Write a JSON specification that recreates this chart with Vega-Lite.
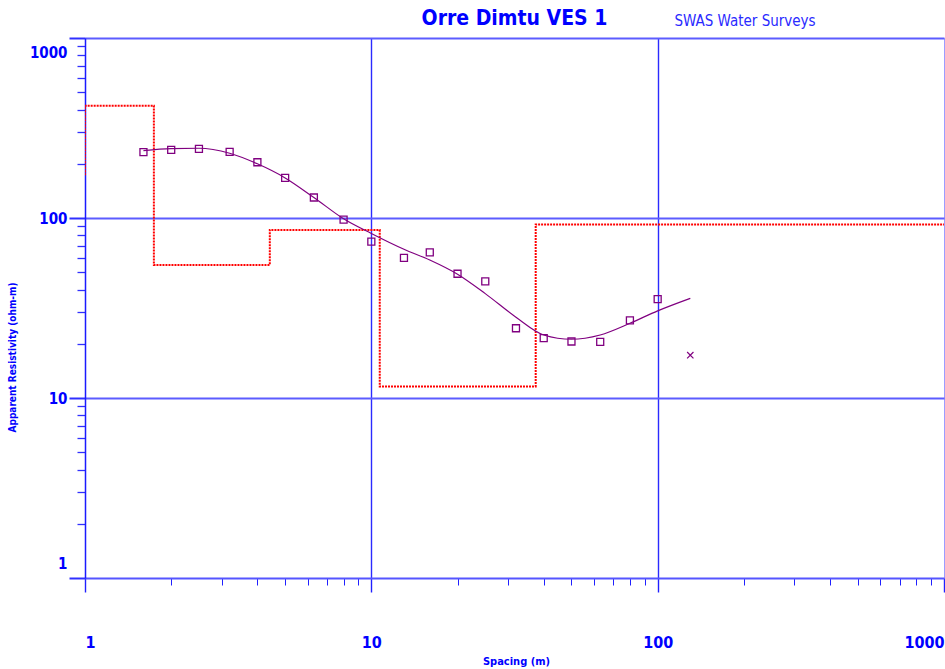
{
  "$schema": "https://vega.github.io/schema/vega-lite/v6.json",
  "width": 859,
  "height": 540,
  "autosize": {"type": "none"},
  "padding": {"left": 85, "top": 38, "right": 1, "bottom": 91},
  "background": "white",
  "title": {
    "text": "Orre Dimtu VES 1",
    "font": "DejaVu Sans Condensed, sans-serif",
    "fontSize": 21,
    "fontWeight": "bold",
    "color": "#0000ff",
    "anchor": "middle",
    "offset": -16
  },
  "config": {
    "view": {"stroke": "#9c9cff", "strokeWidth": 1},
    "font": "DejaVu Sans Condensed, sans-serif"
  },
  "datasets": {
    "observed": [
      {"spacing": 1.6, "rho": 232},
      {"spacing": 2, "rho": 239},
      {"spacing": 2.5, "rho": 242},
      {"spacing": 3.2, "rho": 233},
      {"spacing": 4, "rho": 204},
      {"spacing": 5, "rho": 167},
      {"spacing": 6.3, "rho": 130},
      {"spacing": 8, "rho": 98},
      {"spacing": 10, "rho": 74},
      {"spacing": 13, "rho": 60},
      {"spacing": 16, "rho": 64.5},
      {"spacing": 20, "rho": 49},
      {"spacing": 25, "rho": 44.5},
      {"spacing": 32, "rho": 24.4},
      {"spacing": 40, "rho": 21.5},
      {"spacing": 50, "rho": 20.6},
      {"spacing": 63, "rho": 20.5},
      {"spacing": 80, "rho": 27},
      {"spacing": 100, "rho": 35.4}
    ],
    "excluded": [
      {"spacing": 130, "rho": 17.3}
    ],
    "curve": [
      {"spacing": 1.6, "rho": 237},
      {"spacing": 2, "rho": 243},
      {"spacing": 2.5, "rho": 244},
      {"spacing": 3.2, "rho": 229},
      {"spacing": 4, "rho": 200},
      {"spacing": 5, "rho": 167},
      {"spacing": 6.3, "rho": 130},
      {"spacing": 8, "rho": 99},
      {"spacing": 10, "rho": 82},
      {"spacing": 13, "rho": 67},
      {"spacing": 16, "rho": 58.4},
      {"spacing": 20, "rho": 48.7},
      {"spacing": 25, "rho": 38},
      {"spacing": 32, "rho": 28.1},
      {"spacing": 40, "rho": 22.4},
      {"spacing": 50, "rho": 21.2},
      {"spacing": 63, "rho": 22.4},
      {"spacing": 80, "rho": 26},
      {"spacing": 100, "rho": 30.5},
      {"spacing": 130, "rho": 35.8}
    ],
    "layers": [
      {"spacing": 1, "rho": 173, "o": 0},
      {"spacing": 1, "rho": 420, "o": 1},
      {"spacing": 1.74, "rho": 54.8, "o": 2},
      {"spacing": 4.42, "rho": 85.8, "o": 3},
      {"spacing": 10.7, "rho": 11.6, "o": 4},
      {"spacing": 37.5, "rho": 92, "o": 5},
      {"spacing": 1000, "rho": 92, "o": 6}
    ]
  },
  "layer": [
    {
      "data": {"name": "layers"},
      "mark": {"type": "line", "interpolate": "step-after", "color": "#ff0000", "strokeWidth": 2, "strokeDash": [2, 1], "clip": true},
      "encoding": {
        "x": {
          "field": "spacing", "type": "quantitative",
          "scale": {"type": "log", "domain": [1, 1000], "nice": false},
          "axis": {
            "orient": "bottom",
            "values": [1,2,3,4,5,6,7,8,9,10,20,30,40,50,60,70,80,90,100,200,300,400,500,600,700,800,900,1000],
            "title": "Spacing (m)",
            "titleFontSize": 11,
            "titleFontWeight": "bold",
            "titleColor": "#0000ff",
            "titleX": 431,
            "titleY": 86,
            "titleBaseline": "alphabetic",
            "titleAlign": "center",
            "grid": true,
            "gridColor": "#2b2bff",
            "gridWidth": 1.4,
            "gridOpacity": {"condition": {"test": "datum.value == 10 || datum.value == 100", "value": 1}, "value": 0},
            "tickColor": "#2020ff",
            "tickSize": {"condition": {"test": "datum.value == 1 || datum.value == 10 || datum.value == 100 || datum.value == 1000", "value": 14}, "value": 7},
            "tickWidth": {"condition": {"test": "datum.value == 1 || datum.value == 10 || datum.value == 100 || datum.value == 1000", "value": 1.4}, "value": 1},
            "domain": true,
            "domainColor": "#5555ff",
            "domainWidth": 2,
            "labelExpr": "(datum.value == 1 || datum.value == 10 || datum.value == 100 || datum.value == 1000) ? format(datum.value, 'd') : ''",
            "labelFontSize": 16,
            "labelFontWeight": "bold",
            "labelColor": "#0000ff",
            "labelBaseline": "top",
            "labelPadding": 42,
            "labelFlush": true,
            "labelOverlap": false
          }
        },
        "y": {
          "field": "rho", "type": "quantitative",
          "scale": {"type": "log", "domain": [1, 1000], "nice": false},
          "axis": {
            "orient": "left",
            "values": [1,2,3,4,5,6,7,8,9,10,20,30,40,50,60,70,80,90,100,200,300,400,500,600,700,800,900,1000],
            "title": "Apparent Resistivity (ohm-m)",
            "titleFontSize": 10,
            "titleFontWeight": "bold",
            "titleColor": "#0000ff",
            "titleX": -70,
            "titleY": 319,
            "titleAngle": 270,
            "titleAlign": "center",
            "titleBaseline": "alphabetic",
            "grid": true,
            "gridColor": "#5c5cff",
            "gridWidth": 2,
            "gridOpacity": {"condition": {"test": "datum.value == 10 || datum.value == 100 || datum.value == 1000", "value": 1}, "value": 0},
            "tickColor": "#3030ff",
            "tickSize": {"condition": {"test": "datum.value == 1 || datum.value == 10 || datum.value == 100 || datum.value == 1000", "value": 16}, "value": 8},
            "tickWidth": {"condition": {"test": "datum.value == 1 || datum.value == 10 || datum.value == 100 || datum.value == 1000", "value": 2}, "value": 1.3},
            "domain": true,
            "domainColor": "#1a1aff",
            "domainWidth": 1.5,
            "labelExpr": "(datum.value == 1 || datum.value == 10 || datum.value == 100 || datum.value == 1000) ? format(datum.value, 'd') : ''",
            "labelFontSize": 15,
            "labelFontWeight": "bold",
            "labelColor": "#0000ff",
            "labelPadding": 2,
            "labelBaseline": "middle",
            "labelFlush": false,
            "labelOffset": {"condition": [{"test": "datum.value == 1000", "value": 14}, {"test": "datum.value == 1", "value": -15}], "value": 0},
            "labelOverlap": false
          }
        },
        "order": {"field": "o", "type": "quantitative"}
      }
    },
    {
      "data": {"name": "curve"},
      "mark": {"type": "line", "interpolate": "monotone", "color": "#800080", "strokeWidth": 1.2},
      "encoding": {
        "x": {
          "field": "spacing", "type": "quantitative",
          "axis": {
            "orient": "top",
            "ticks": false,
            "labels": false,
            "domain": false,
            "grid": false,
            "title": "SWAS Water Surveys",
            "titleX": 659.5,
            "titleY": -13,
            "titleAlign": "center",
            "titleBaseline": "alphabetic",
            "titleFontSize": 15,
            "titleFontWeight": "normal",
            "titleColor": "#2a2aff"
          }
        },
        "y": {"field": "rho", "type": "quantitative"}
      }
    },
    {
      "data": {"name": "observed"},
      "mark": {"type": "point", "shape": "square", "filled": false, "size": 49, "strokeWidth": 1.3, "color": "#800080", "opacity": 1},
      "encoding": {
        "x": {"field": "spacing", "type": "quantitative", "axis": null},
        "y": {"field": "rho", "type": "quantitative"}
      }
    },
    {
      "data": {"name": "excluded"},
      "mark": {"type": "point", "shape": "M-1,-1L1,1M-1,1L1,-1", "filled": false, "size": 40, "strokeWidth": 1.2, "color": "#800080", "opacity": 1},
      "encoding": {
        "x": {"field": "spacing", "type": "quantitative", "axis": null},
        "y": {"field": "rho", "type": "quantitative"}
      }
    }
  ],
  "resolve": {"axis": {"x": "independent"}}
}
